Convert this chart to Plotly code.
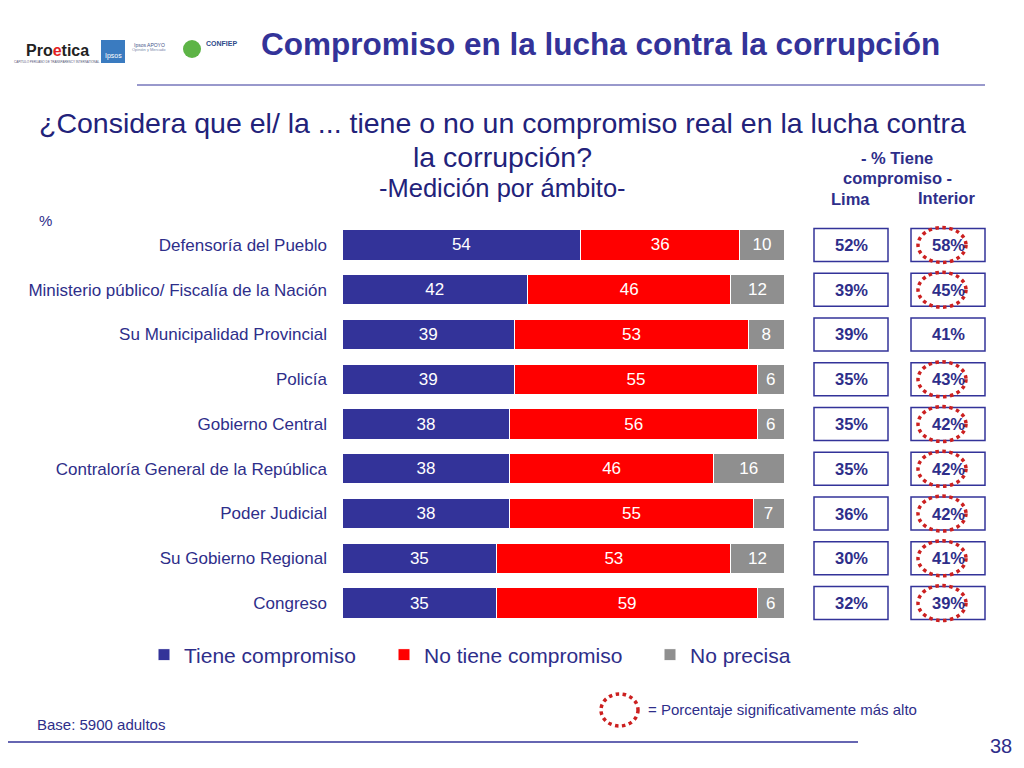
import plotly.graph_objects as go

categories = [
    "Defensoría del Pueblo",
    "Ministerio público/ Fiscalía de la Nación",
    "Su Municipalidad Provincial",
    "Policía",
    "Gobierno Central",
    "Contraloría General de la República",
    "Poder Judicial",
    "Su Gobierno Regional",
    "Congreso",
]
tiene = [54, 42, 39, 39, 38, 38, 38, 35, 35]
no_tiene = [36, 46, 53, 55, 56, 46, 55, 53, 59]
no_precisa = [10, 12, 8, 6, 6, 16, 7, 12, 6]
lima = [52, 39, 39, 35, 35, 35, 36, 30, 32]
interior = [58, 45, 41, 43, 42, 42, 42, 41, 39]
significant = [True, True, False, True, True, True, True, True, True]

BLUE = "#333399"
RED = "#FF0000"
GRAY = "#8F8F8F"
TXT = "#2E2E8A"
NARROW = "Liberation Sans Narrow, Arial Narrow, Liberation Sans, Arial"
SANS = "Liberation Sans, Arial"

# page body has an 8px margin: size the figure so the page is exactly 1024x768
OFF = 8
W, H = 1024 - 2 * OFF, 768 - 2 * OFF


def px(x):
    return (x - OFF) / W


def py(y):
    return 1 - (y - OFF) / H


fig = go.Figure()
legend_names = ["legend", "legend2", "legend3"]
for k, (name, vals, col) in enumerate([("Tiene compromiso", tiene, BLUE),
                                       ("No tiene compromiso", no_tiene, RED),
                                       ("No precisa", no_precisa, GRAY)]):
    fig.add_trace(go.Bar(
        y=categories, x=vals, name=name, orientation="h",
        marker=dict(color=col, line=dict(color="white", width=1)),
        text=[str(v) for v in vals], textposition="inside",
        insidetextanchor="middle",
        textfont=dict(color="white", size=17, family=SANS),
        width=0.68, hoverinfo="skip", legend=legend_names[k],
    ))

leg_common = dict(orientation="h", xanchor="left", yanchor="middle", y=py(655),
                  font=dict(size=21, color=TXT, family=NARROW),
                  itemwidth=30, bgcolor="rgba(0,0,0,0)")

fig.update_layout(
    width=W, height=H, barmode="stack",
    margin=dict(l=0, r=0, t=0, b=0),
    paper_bgcolor="white", plot_bgcolor="white",
    showlegend=True,
    legend=dict(x=px(144), **leg_common),
    legend2=dict(x=px(384), **leg_common),
    legend3=dict(x=px(650), **leg_common),
    xaxis=dict(domain=[px(342), px(784)], range=[0, 100], visible=False, fixedrange=True),
    yaxis=dict(domain=[py(625.4), py(222.6)], autorange="reversed",
               tickfont=dict(size=17, color=TXT, family=NARROW),
               ticks="", showline=False, showgrid=False, ticklabelstandoff=14,
               fixedrange=True),
    font=dict(family=SANS),
)

shapes = []
annotations = []


def txt(x, y, text, size, color=TXT, family=SANS, bold=False, xanchor="center", yref="paper", yval=None):
    annotations.append(dict(
        xref="paper", yref=yref, x=px(x), y=(py(y) if yval is None else yval), text=text,
        xanchor=xanchor, yanchor="middle", showarrow=False,
        font=dict(size=size, color=color, family=family, weight="bold" if bold else "normal")))


# Right side boxes
for i, (l, it, sig) in enumerate(zip(lima, interior, significant)):
    shapes.append(dict(type="rect", xref="paper", yref="y",
                       x0=px(814), x1=px(888), y0=i - 0.37, y1=i + 0.37,
                       line=dict(color=BLUE, width=1.5), fillcolor="white"))
    shapes.append(dict(type="rect", xref="paper", yref="y",
                       x0=px(911), x1=px(985), y0=i - 0.37, y1=i + 0.37,
                       line=dict(color=BLUE, width=1.5), fillcolor="white"))
    txt(851, 0, f"{l}%", 16.5, bold=True, yref="y", yval=i)
    txt(948, 0, f"{it}%", 16.5, bold=True, yref="y", yval=i)
    if sig:
        shapes.append(dict(type="circle", xref="paper", yref="y",
                           x0=px(918), x1=px(966), y0=i - 0.39, y1=i + 0.39,
                           line=dict(color="#CC2020", width=3.5, dash="dot")))

# Header of boxes
txt(897, 158, "- % Tiene", 16.5, bold=True)
txt(897, 178, "compromiso -", 16.5, bold=True)
txt(850, 199, "Lima", 16.5, bold=True)
txt(946, 198, "Interior", 16.5, bold=True)

# Title
txt(600, 44, "Compromiso en la lucha contra la corrupción", 31.5, color=BLUE, bold=True)
shapes.append(dict(type="line", xref="paper", yref="paper", x0=px(137), x1=px(985), y0=py(85), y1=py(85),
                   line=dict(color=BLUE, width=1)))

# Question
txt(502, 123, "¿Considera que el/ la ... tiene o no un compromiso real en la lucha contra", 28.5, color="#22227A")
txt(502, 157, "la corrupción?", 28.5, color="#22227A")
txt(502, 188, "-Medición por ámbito-", 25.5, color="#22227A")
txt(45, 220, "%", 15)

# Footer
txt(35, 724, "Base: 5900 adultos", 15, family=NARROW, xanchor="left")
shapes.append(dict(type="line", xref="paper", yref="paper", x0=px(0), x1=px(858), y0=py(742), y1=py(742),
                   line=dict(color=BLUE, width=1.5)))
txt(1001, 746, "38", 20, family=NARROW)
shapes.append(dict(type="circle", xref="paper", yref="paper", x0=px(601), x1=px(638), y0=py(726), y1=py(694),
                   line=dict(color="#CC2020", width=3.5, dash="dot")))
txt(646, 709, "= Porcentaje significativamente más alto", 15, xanchor="left")

# Logos (approximations)
txt(57, 51, "Pro<span style='color:#E31E24'>e</span>tica", 16, color="#222222", bold=True)
txt(57, 62, "CAPÍTULO PERUANO DE TRANSPARENCY INTERNATIONAL", 3, color="#555577")
shapes.append(dict(type="rect", xref="paper", yref="paper", x0=px(101), x1=px(125), y0=py(63), y1=py(40),
                   line=dict(width=0), fillcolor="#3A7BC0"))
txt(113, 56, "Ipsos", 7, color="white")
txt(149, 45, "Ipsos APOYO", 5, color="#445588")
txt(149, 50, "Opinión y Mercado", 4, color="#7788AA")
shapes.append(dict(type="circle", xref="paper", yref="paper", x0=px(183), x1=px(201), y0=py(58), y1=py(40),
                   line=dict(width=0), fillcolor="#5DB446"))
txt(221, 43, "CONFIEP", 7, color="#2E4A8A", bold=True)

fig.update_layout(shapes=shapes, annotations=annotations)
fig.write_html("out.html")
